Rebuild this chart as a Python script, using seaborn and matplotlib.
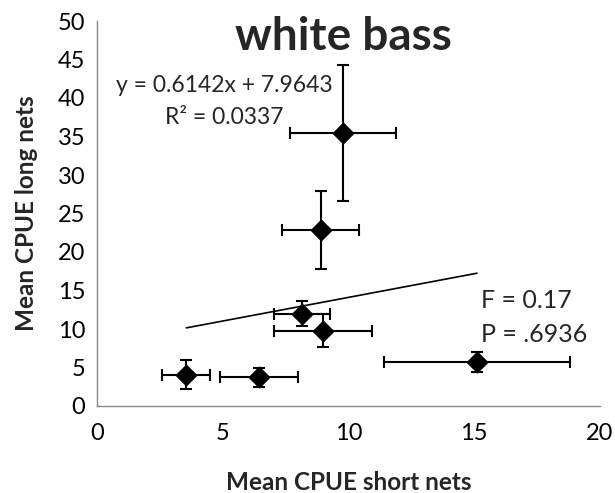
import matplotlib
matplotlib.use("Agg")
import matplotlib.pyplot as plt
import seaborn as sns
import numpy as np
import pandas as pd

# Data
short_cpue = [3.55, 6.43, 8.15, 8.99, 15.11, 8.89, 9.78]
long_cpue = [4.09, 3.74, 11.98, 9.77, 5.69, 22.88, 35.47]
short_err = [0.95, 1.55, 1.12, 1.94, 3.71, 1.53, 2.11]
long_err = [1.85, 1.25, 1.60, 2.13, 1.30, 5.05, 8.80]
slope = 0.6142
intercept = 7.9643
x_ticks = [0, 5, 10, 15, 20]
y_ticks = [0, 5, 10, 15, 20, 25, 30, 35, 40, 45, 50]

df = pd.DataFrame({"short": short_cpue, "long": long_cpue})

sns.set_theme(style="white")
plt.rcParams['font.family'] = ['Lato', 'DejaVu Sans']

fig = plt.figure(figsize=(6.15, 4.93), dpi=100)
ax = fig.add_axes([97/615, 1 - 406/493, (600-97)/615, (406-21)/493])

ax.errorbar(short_cpue, long_cpue, xerr=short_err, yerr=long_err, fmt='none',
            ecolor='black', elinewidth=1.5, capsize=4, capthick=1.5, zorder=2)
sns.scatterplot(data=df, x="short", y="long", marker='D', color='black', s=130,
                edgecolor='black', linewidth=0, ax=ax, zorder=3)

xl = np.array([min(short_cpue), max(short_cpue)])
ax.plot(xl, slope * xl + intercept, color='black', lw=1.2, zorder=1)

ax.set_xlim(0, 20)
ax.set_ylim(0, 50)
ax.set_xticks(x_ticks)
ax.set_yticks(y_ticks)
ax.tick_params(axis='both', labelsize=17, colors='#888888', labelcolor='black',
               direction='out', length=5, width=1)
ax.tick_params(axis='x', length=7, pad=5)
for s in ['top', 'right']:
    ax.spines[s].set_visible(False)
for s in ['left', 'bottom']:
    ax.spines[s].set_color('#888888')
    ax.spines[s].set_linewidth(1)

ax.set_xlabel("Mean CPUE short nets", fontsize=17.5, fontweight='bold', labelpad=20)
ax.set_ylabel("Mean CPUE long nets", fontsize=17.5, fontweight='bold', labelpad=14)

fig.text(343/615, 1 - 37/493, "white bass", fontsize=33, fontweight='bold',
         ha='center', va='center')
fig.text(224/615, 1 - 85/493, "y = 0.6142x + 7.9643", fontsize=16.5,
         ha='center', va='center')
fig.text(224/615, 1 - 118/493, "R² = 0.0337", fontsize=16.5,
         ha='center', va='center')
fig.text(481/615, 1 - 300/493, "F = 0.17", fontsize=18, ha='left', va='center')
fig.text(481/615, 1 - 335/493, "P = .6936", fontsize=18, ha='left', va='center')

fig.savefig("out.png", dpi=100)
